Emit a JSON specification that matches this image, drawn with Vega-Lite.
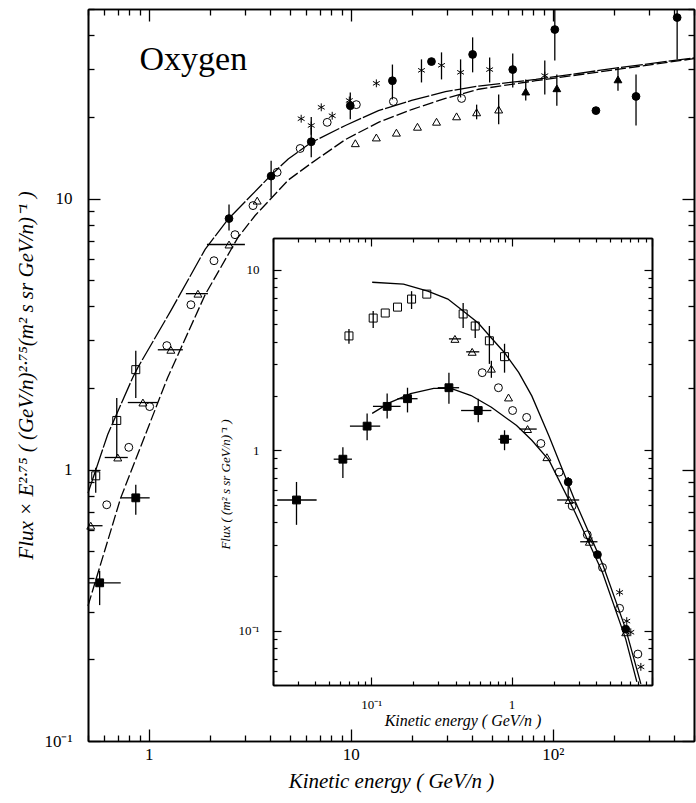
{
  "$schema": "https://vega.github.io/schema/vega-lite/v6.json",
  "width": 606,
  "height": 732,
  "autosize": {"type": "none"},
  "padding": {"left": 88, "top": 9, "right": 2, "bottom": 62},
  "background": "white",
  "config": {
    "view": {"stroke": null},
    "axis": {
      "labelFont": "Liberation Serif",
      "titleFont": "Liberation Serif",
      "labelColor": "black",
      "titleColor": "black",
      "domainColor": "black",
      "grid": false,
      "domainWidth": 1.6,
      "labelFlush": false,
      "labelOverlap": false,
      "labelBound": false,
      "titleFontWeight": "normal",
      "titleFontStyle": "italic",
      "zindex": 1
    },
    "text": {"font": "Liberation Serif"}
  },
  "datasets": {
    "mcurve": [
      {"c": "u", "x": 0.5, "y": 0.82},
      {"c": "u", "x": 0.626, "y": 1.35},
      {"c": "u", "x": 0.833, "y": 2.19},
      {"c": "u", "x": 0.882, "y": 2.38},
      {"c": "u", "x": 1.286, "y": 3.86},
      {"c": "u", "x": 1.9, "y": 6.5},
      {"c": "u", "x": 2.47, "y": 8.4},
      {"c": "u", "x": 4.03, "y": 12.2},
      {"c": "u", "x": 4.9, "y": 14.0},
      {"c": "u", "x": 6.37, "y": 16.1},
      {"c": "u", "x": 9.4, "y": 18.6},
      {"c": "u", "x": 13.7, "y": 21.1},
      {"c": "u", "x": 20, "y": 23.0},
      {"c": "u", "x": 29.4, "y": 24.8},
      {"c": "u", "x": 42.9, "y": 26.0},
      {"c": "u", "x": 82.4, "y": 27.5},
      {"c": "u", "x": 213, "y": 30.4},
      {"c": "u", "x": 500, "y": 33.0},
      {"c": "l", "x": 0.5, "y": 0.315},
      {"c": "l", "x": 0.726, "y": 0.788},
      {"c": "l", "x": 1.24, "y": 2.19},
      {"c": "l", "x": 1.9, "y": 4.42},
      {"c": "l", "x": 2.76, "y": 7.18},
      {"c": "l", "x": 3.36, "y": 8.66},
      {"c": "l", "x": 4.9, "y": 11.7},
      {"c": "l", "x": 6.37, "y": 13.5},
      {"c": "l", "x": 9.4, "y": 16.5},
      {"c": "l", "x": 13.7, "y": 19.1},
      {"c": "l", "x": 20, "y": 21.3},
      {"c": "l", "x": 29.4, "y": 23.4},
      {"c": "l", "x": 42.9, "y": 25.3},
      {"c": "l", "x": 82.4, "y": 27.2},
      {"c": "l", "x": 213, "y": 30.0},
      {"c": "l", "x": 500, "y": 32.8}
    ],
    "mpts": [
      {"s": "sq", "x": 0.546, "y": 0.95, "ylo": 0.823, "yhi": 1.017},
      {"s": "sq", "x": 0.694, "y": 1.52, "ylo": 1.11, "yhi": 1.84},
      {"s": "sq", "x": 0.862, "y": 2.34, "ylo": 1.84, "yhi": 2.75},
      {"s": "tri", "x": 0.516, "y": 0.622, "xlo": 0.5, "xhi": 0.59},
      {"s": "tri", "x": 0.702, "y": 1.11, "xlo": 0.605, "xhi": 0.787},
      {"s": "tri", "x": 0.935, "y": 1.77, "xlo": 0.787, "xhi": 1.108},
      {"s": "tri", "x": 1.286, "y": 2.77, "xlo": 1.108, "xhi": 1.474},
      {"s": "tri", "x": 1.751, "y": 4.46, "xlo": 1.526, "xhi": 1.962},
      {"s": "tri", "x": 2.495, "y": 6.77, "xlo": 1.94, "xhi": 2.99},
      {"s": "tri", "x": 3.44, "y": 9.83},
      {"s": "tri", "x": 10.53, "y": 16.0},
      {"s": "tri", "x": 13.38, "y": 16.8},
      {"s": "tri", "x": 16.82, "y": 17.5},
      {"s": "tri", "x": 21.38, "y": 18.4},
      {"s": "tri", "x": 26.57, "y": 19.2},
      {"s": "tri", "x": 33.39, "y": 20.1},
      {"s": "tri", "x": 41.96, "y": 20.8, "ylo": 19.6, "yhi": 22.2},
      {"s": "tri", "x": 53.95, "y": 21.3, "ylo": 18.8, "yhi": 24.2},
      {"s": "circ", "x": 0.619, "y": 0.743},
      {"s": "circ", "x": 0.796, "y": 1.21},
      {"s": "circ", "x": 1.01, "y": 1.71},
      {"s": "circ", "x": 1.228, "y": 2.87},
      {"s": "circ", "x": 1.616, "y": 4.06},
      {"s": "circ", "x": 2.102, "y": 5.9},
      {"s": "circ", "x": 2.672, "y": 7.36},
      {"s": "circ", "x": 3.28, "y": 9.42},
      {"s": "circ", "x": 4.318, "y": 12.5},
      {"s": "circ", "x": 5.615, "y": 15.3},
      {"s": "circ", "x": 7.64, "y": 19.1},
      {"s": "circ", "x": 10.65, "y": 22.2},
      {"s": "circ", "x": 16.25, "y": 22.8},
      {"s": "circ", "x": 35.35, "y": 23.4},
      {"s": "fsq", "x": 0.571, "y": 0.383, "xlo": 0.5, "xhi": 0.726, "ylo": 0.317, "yhi": 0.424},
      {"s": "fsq", "x": 0.862, "y": 0.788, "xlo": 0.726, "xhi": 1.01, "ylo": 0.682, "yhi": 0.88},
      {"s": "fcirc", "x": 2.495, "y": 8.44, "ylo": 7.62, "yhi": 9.5},
      {"s": "fcirc", "x": 4.032, "y": 12.1, "ylo": 10.1, "yhi": 13.8},
      {"s": "fcirc", "x": 6.37, "y": 16.2, "ylo": 14.2, "yhi": 18.3},
      {"s": "fcirc", "x": 9.94, "y": 22.0, "ylo": 19.6, "yhi": 24.6},
      {"s": "fcirc", "x": 16.07, "y": 27.2, "ylo": 23.2, "yhi": 31.2},
      {"s": "fcirc", "x": 25.08, "y": 32.0},
      {"s": "fcirc", "x": 40.09, "y": 34.0, "ylo": 29.2, "yhi": 39.3},
      {"s": "fcirc", "x": 63.33, "y": 29.9, "ylo": 25.7, "yhi": 34.3},
      {"s": "fcirc", "x": 102.3, "y": 42.0, "ylo": 32.3, "yhi": 50},
      {"s": "fcirc", "x": 163.5, "y": 21.1},
      {"s": "fcirc", "x": 258.2, "y": 23.8, "ylo": 18.6, "yhi": 28.7},
      {"s": "fcirc", "x": 412.6, "y": 46.5, "ylo": 32.6, "yhi": 50},
      {"s": "star", "x": 5.68, "y": 19.7},
      {"s": "star", "x": 6.37, "y": 18.6, "ylo": 17.2, "yhi": 20.0},
      {"s": "star", "x": 7.14, "y": 21.7},
      {"s": "star", "x": 8.09, "y": 20.2},
      {"s": "star", "x": 9.83, "y": 23.0},
      {"s": "star", "x": 13.38, "y": 26.6},
      {"s": "star", "x": 22.38, "y": 29.7, "ylo": 26.8, "yhi": 32.6},
      {"s": "star", "x": 28.12, "y": 31.0, "ylo": 27.5, "yhi": 34.6},
      {"s": "star", "x": 34.95, "y": 29.2, "ylo": 23.6, "yhi": 32.6},
      {"s": "star", "x": 48.68, "y": 29.9, "ylo": 26.8, "yhi": 33.1},
      {"s": "star", "x": 91.26, "y": 28.4, "ylo": 24.2, "yhi": 32.3},
      {"s": "ftri", "x": 73.45, "y": 24.8, "ylo": 23.0, "yhi": 27.5},
      {"s": "ftri", "x": 104.7, "y": 25.5, "ylo": 22.0, "yhi": 28.7},
      {"s": "ftri", "x": 210.2, "y": 27.5, "ylo": 25.0, "yhi": 30.4}
    ],
    "mlabel": [{"x": 0.9, "y": 32.3, "t": "Oxygen"}],
    "icurve": [
      {"c": "u", "x": 0.1017, "y": 8.53},
      {"c": "u", "x": 0.17, "y": 8.32},
      {"c": "u", "x": 0.253, "y": 7.61},
      {"c": "u", "x": 0.352, "y": 6.88},
      {"c": "u", "x": 0.452, "y": 5.91},
      {"c": "u", "x": 0.579, "y": 5.07},
      {"c": "u", "x": 0.718, "y": 4.19},
      {"c": "u", "x": 0.891, "y": 3.47},
      {"c": "u", "x": 1.123, "y": 2.7},
      {"c": "u", "x": 1.393, "y": 2.0},
      {"c": "u", "x": 1.846, "y": 1.2},
      {"c": "u", "x": 2.84, "y": 0.52},
      {"c": "u", "x": 4.44, "y": 0.235},
      {"c": "u", "x": 6.5, "y": 0.102},
      {"c": "u", "x": 8.33, "y": 0.0507},
      {"c": "l", "x": 0.1017, "y": 1.6},
      {"c": "l", "x": 0.137, "y": 1.84},
      {"c": "l", "x": 0.191, "y": 2.06},
      {"c": "l", "x": 0.279, "y": 2.2},
      {"c": "l", "x": 0.37, "y": 2.2},
      {"c": "l", "x": 0.515, "y": 2.01},
      {"c": "l", "x": 0.718, "y": 1.73},
      {"c": "l", "x": 1.086, "y": 1.37},
      {"c": "l", "x": 1.393, "y": 1.135},
      {"c": "l", "x": 1.846, "y": 0.881},
      {"c": "l", "x": 2.84, "y": 0.45},
      {"c": "l", "x": 4.44, "y": 0.21},
      {"c": "l", "x": 6.5, "y": 0.0898},
      {"c": "l", "x": 7.8, "y": 0.052}
    ],
    "ipts": [
      {"s": "sq", "x": 0.0695, "y": 4.3, "ylo": 3.89, "yhi": 4.7},
      {"s": "sq", "x": 0.1034, "y": 5.4, "ylo": 4.76, "yhi": 5.91},
      {"s": "sq", "x": 0.126, "y": 5.76},
      {"s": "sq", "x": 0.154, "y": 6.21},
      {"s": "sq", "x": 0.194, "y": 6.88, "ylo": 6.06, "yhi": 7.61},
      {"s": "sq", "x": 0.249, "y": 7.33},
      {"s": "sq", "x": 0.452, "y": 5.69, "ylo": 4.76, "yhi": 6.54},
      {"s": "sq", "x": 0.551, "y": 4.88, "ylo": 4.19, "yhi": 5.2},
      {"s": "sq", "x": 0.695, "y": 4.04, "ylo": 3.01, "yhi": 4.88},
      {"s": "sq", "x": 0.891, "y": 3.3, "ylo": 2.69, "yhi": 3.89},
      {"s": "fsq", "x": 0.0294, "y": 0.53, "xlo": 0.0214, "xhi": 0.0409, "ylo": 0.386, "yhi": 0.667},
      {"s": "fsq", "x": 0.0629, "y": 0.892, "xlo": 0.0541, "xhi": 0.073, "ylo": 0.701, "yhi": 1.04},
      {"s": "fsq", "x": 0.0936, "y": 1.36, "xlo": 0.0706, "xhi": 0.116, "ylo": 1.135, "yhi": 1.6},
      {"s": "fsq", "x": 0.13, "y": 1.75, "xlo": 0.103, "xhi": 0.162, "ylo": 1.5, "yhi": 2.06},
      {"s": "fsq", "x": 0.1815, "y": 1.93, "xlo": 0.154, "xhi": 0.214, "ylo": 1.62, "yhi": 2.22},
      {"s": "fsq", "x": 0.358, "y": 2.22, "xlo": 0.298, "xhi": 0.423, "ylo": 1.81, "yhi": 2.69},
      {"s": "fsq", "x": 0.579, "y": 1.66, "xlo": 0.437, "xhi": 0.718, "ylo": 1.43, "yhi": 1.93},
      {"s": "fsq", "x": 0.891, "y": 1.15, "xlo": 0.806, "xhi": 1.0, "ylo": 1.0, "yhi": 1.29},
      {"s": "tri", "x": 0.395, "y": 4.14, "xlo": 0.358, "xhi": 0.437},
      {"s": "tri", "x": 0.524, "y": 3.51, "xlo": 0.475, "xhi": 0.589},
      {"s": "tri", "x": 0.718, "y": 2.83, "ylo": 2.52, "yhi": 3.13},
      {"s": "tri", "x": 0.951, "y": 1.96},
      {"s": "tri", "x": 1.3, "y": 1.31, "xlo": 1.14, "xhi": 1.51},
      {"s": "tri", "x": 1.785, "y": 0.915},
      {"s": "tri", "x": 2.57, "y": 0.53, "xlo": 2.11, "xhi": 3.03},
      {"s": "tri", "x": 3.58, "y": 0.311, "xlo": 3.08, "xhi": 4.09},
      {"s": "tri", "x": 6.5, "y": 0.098},
      {"s": "circ", "x": 0.618, "y": 2.69},
      {"s": "circ", "x": 0.806, "y": 2.22},
      {"s": "circ", "x": 1.017, "y": 1.66},
      {"s": "circ", "x": 1.28, "y": 1.52},
      {"s": "circ", "x": 1.617, "y": 1.09},
      {"s": "circ", "x": 2.18, "y": 0.756},
      {"s": "circ", "x": 2.7, "y": 0.491},
      {"s": "circ", "x": 3.46, "y": 0.34},
      {"s": "circ", "x": 4.44, "y": 0.224},
      {"s": "circ", "x": 5.88, "y": 0.133},
      {"s": "circ", "x": 7.93, "y": 0.0742},
      {"s": "fcirc", "x": 2.53, "y": 0.667, "ylo": 0.551, "yhi": 0.71},
      {"s": "fcirc", "x": 4.09, "y": 0.264},
      {"s": "fcirc", "x": 6.5, "y": 0.102},
      {"s": "star", "x": 3.58, "y": 0.319},
      {"s": "star", "x": 5.88, "y": 0.163},
      {"s": "star", "x": 6.61, "y": 0.113},
      {"s": "star", "x": 7.06, "y": 0.098},
      {"s": "star", "x": 8.33, "y": 0.063}
    ]
  },
  "layer": [
    {
      "layer": [
        {
          "data": {"name": "mcurve"},
          "mark": {"type": "line", "color": "black", "strokeWidth": 1.3},
          "encoding": {
            "x": {"field": "x", "type": "quantitative",
              "scale": {"type": "log", "domain": [0.5, 500], "nice": false},
              "axis": {
                "orient": "bottom",
                "values": [1, 10, 100],
                "labelExpr": "datum.value == 1 ? '1' : datum.value == 10 ? '10' : '10²'",
                "ticks": true, "tickColor": "#000000", "tickOpacity": 1, "tickWidth": 1.3, "tickSize": -12,
                "labelPadding": 17,
                "labelFontSize": 17,
                "title": "Kinetic energy ( GeV/n )",
                "titleFontSize": 21,
                "titlePadding": 8
              }},
            "y": {"field": "y", "type": "quantitative",
              "scale": {"type": "log", "domain": [0.1, 50], "nice": false},
              "axis": {
                "orient": "left",
                "values": [0.1, 1, 10],
                "labelExpr": "datum.value == 0.1 ? '10⁻¹' : datum.value == 1 ? '1' : '10'",
                "ticks": true, "tickColor": "#000000", "tickOpacity": 1, "tickWidth": 1.3, "tickSize": -12,
                "labelPadding": 28,
                "labelFontSize": 17,
                "title": "Flux × E²·⁷⁵ ( (GeV/n)²·⁷⁵(m² s sr GeV/n)⁻¹ )",
                "titleFontSize": 21,
                "titlePadding": 7
              }},
            "strokeDash": {"field": "c", "type": "nominal", "scale": {"domain": ["u", "l"], "range": [[22, 2], [11, 3]]}, "legend": null}
          }
        },
        {
          "data": {"name": "mcurve"},
          "mark": {"type": "line", "opacity": 0},
          "encoding": {
            "x": {"field": "x", "type": "quantitative",
              "scale": {"type": "log", "domain": [0.5, 500], "nice": false},
              "axis": {"orient": "top", "values": [1, 10, 100], "labels": false, "ticks": true, "tickColor": "#000000", "tickOpacity": 1, "tickWidth": 1.3, "tickSize": -12, "title": null}},
            "y": {"field": "y", "type": "quantitative",
              "scale": {"type": "log", "domain": [0.1, 50], "nice": false},
              "axis": {"orient": "right", "values": [0.1, 1, 10], "labels": false, "ticks": true, "tickColor": "#000000", "tickOpacity": 1, "tickWidth": 1.3, "tickSize": -12, "title": null}},
            "detail": {"field": "c"}
          }
        },
        {
          "data": {"name": "mcurve"},
          "mark": {"type": "line", "opacity": 0},
          "encoding": {
            "x": {"field": "x", "type": "quantitative",
              "scale": {"type": "log", "domain": [0.5, 500], "nice": false},
              "axis": {"orient": "bottom", "values": [0.5, 0.6, 0.7, 0.8, 0.9, 2, 3, 4, 5, 6, 7, 8, 9, 20, 30, 40, 50, 60, 70, 80, 90, 200, 300, 400, 500], "labels": false, "ticks": true, "tickColor": "#000000", "tickOpacity": 1, "tickWidth": 1.3, "tickSize": -6, "title": null}},
            "y": {"field": "y", "type": "quantitative",
              "scale": {"type": "log", "domain": [0.1, 50], "nice": false},
              "axis": {"orient": "left", "values": [0.2, 0.3, 0.4, 0.5, 0.6, 0.7, 0.8, 0.9, 2, 3, 4, 5, 6, 7, 8, 9, 20, 30, 40, 50], "labels": false, "ticks": true, "tickColor": "#000000", "tickOpacity": 1, "tickWidth": 1.3, "tickSize": -6, "title": null}},
            "detail": {"field": "c"}
          }
        },
        {
          "data": {"name": "mcurve"},
          "mark": {"type": "line", "opacity": 0},
          "encoding": {
            "x": {"field": "x", "type": "quantitative",
              "scale": {"type": "log", "domain": [0.5, 500], "nice": false},
              "axis": {"orient": "top", "values": [0.5, 0.6, 0.7, 0.8, 0.9, 2, 3, 4, 5, 6, 7, 8, 9, 20, 30, 40, 50, 60, 70, 80, 90, 200, 300, 400, 500], "labels": false, "ticks": true, "tickColor": "#000000", "tickOpacity": 1, "tickWidth": 1.3, "tickSize": -6, "title": null}},
            "y": {"field": "y", "type": "quantitative",
              "scale": {"type": "log", "domain": [0.1, 50], "nice": false},
              "axis": {"orient": "right", "values": [0.2, 0.3, 0.4, 0.5, 0.6, 0.7, 0.8, 0.9, 2, 3, 4, 5, 6, 7, 8, 9, 20, 30, 40, 50], "labels": false, "ticks": true, "tickColor": "#000000", "tickOpacity": 1, "tickWidth": 1.3, "tickSize": -6, "title": null}},
            "detail": {"field": "c"}
          }
        },
        {
          "data": {"name": "mpts"},
          "transform": [{"filter": "isValid(datum.ylo)"}],
          "mark": {"type": "rule", "color": "black", "strokeWidth": 1.3},
          "encoding": {
            "x": {"field": "x", "type": "quantitative", "scale": {"type": "log", "domain": [0.5, 500], "nice": false}, "axis": null},
            "y": {"field": "ylo", "type": "quantitative", "scale": {"type": "log", "domain": [0.1, 50], "nice": false}, "axis": null},
            "y2": {"field": "yhi"}
          }
        },
        {
          "data": {"name": "mpts"},
          "transform": [{"filter": "isValid(datum.xlo)"}],
          "mark": {"type": "rule", "color": "black", "strokeWidth": 1.3},
          "encoding": {
            "x": {"field": "xlo", "type": "quantitative", "scale": {"type": "log", "domain": [0.5, 500], "nice": false}, "axis": null},
            "x2": {"field": "xhi"},
            "y": {"field": "y", "type": "quantitative", "scale": {"type": "log", "domain": [0.1, 50], "nice": false}, "axis": null}
          }
        },
        {
          "data": {"name": "mpts"},
          "mark": {"type": "point", "filled": true, "stroke": "black", "strokeWidth": 1, "opacity": 1},
          "encoding": {
            "x": {"field": "x", "type": "quantitative", "scale": {"type": "log", "domain": [0.5, 500], "nice": false}, "axis": null},
            "y": {"field": "y", "type": "quantitative", "scale": {"type": "log", "domain": [0.1, 50], "nice": false}, "axis": null},
            "shape": {"field": "s", "type": "nominal", "legend": null,
              "scale": {"domain": ["sq", "tri", "circ", "star", "fsq", "fcirc", "ftri"],
                "range": ["square", "triangle-up", "circle", "M0,-1L0,1M-0.87,-0.5L0.87,0.5M-0.87,0.5L0.87,-0.5", "square", "circle", "triangle-up"]}},
            "size": {"field": "s", "type": "nominal", "legend": null,
              "scale": {"domain": ["sq", "tri", "circ", "star", "fsq", "fcirc", "ftri"], "range": [64, 60, 60, 80, 64, 60, 64]}},
            "fill": {"condition": {"test": "datum.s == 'fsq' || datum.s == 'fcirc' || datum.s == 'ftri'", "value": "black"}, "value": "transparent"}
          }
        },
        {
          "data": {"name": "mlabel"},
          "mark": {"type": "text", "align": "left", "baseline": "middle", "fontSize": 34, "font": "Liberation Serif", "color": "black"},
          "encoding": {
            "x": {"field": "x", "type": "quantitative", "scale": {"type": "log", "domain": [0.5, 500], "nice": false}, "axis": null},
            "y": {"field": "y", "type": "quantitative", "scale": {"type": "log", "domain": [0.1, 50], "nice": false}, "axis": null},
            "text": {"field": "t"}
          }
        }
      ],
      "resolve": {"axis": {"x": "independent", "y": "independent"}}
    },
    {
      "layer": [
        {
          "data": {"name": "icurve"},
          "mark": {"type": "line", "color": "black", "strokeWidth": 1.3},
          "encoding": {
            "x": {"field": "x", "type": "quantitative",
              "scale": {"type": "log", "domain": [0.02, 10], "range": [185, 564], "nice": false},
              "axis": {
                "orient": "bottom",
                "offset": -56,
                "values": [0.1, 1, 10],
                "labelExpr": "datum.value == 0.1 ? '10⁻¹' : datum.value == 1 ? '1' : ''",
                "ticks": true, "tickColor": "#000000", "tickOpacity": 1, "tickWidth": 1.2, "tickSize": -8,
                "labelPadding": 21,
                "labelFontSize": 13,
                "title": "Kinetic energy ( GeV/n )",
                "titleFontSize": 16,
                "titlePadding": 1
              }},
            "y": {"field": "y", "type": "quantitative",
              "scale": {"type": "log", "domain": [0.05, 15], "range": [676, 229], "nice": false},
              "axis": {
                "orient": "left",
                "offset": -185,
                "values": [0.1, 1, 10],
                "labelExpr": "datum.value == 0.1 ? '10⁻¹' : datum.value == 1 ? '1' : '10'",
                "ticks": true, "tickColor": "#000000", "tickOpacity": 1, "tickWidth": 1.2, "tickSize": -8,
                "labelPadding": 22,
                "labelFontSize": 13,
                "title": "Flux ( (m² s sr GeV/n)⁻¹ )",
                "titleFontSize": 13,
                "titlePadding": 6,
                "titleY": 475
              }},
            "detail": {"field": "c"}
          }
        },
        {
          "data": {"name": "icurve"},
          "mark": {"type": "line", "opacity": 0},
          "encoding": {
            "x": {"field": "x", "type": "quantitative",
              "scale": {"type": "log", "domain": [0.02, 10], "range": [185, 564], "nice": false},
              "axis": {"orient": "top", "offset": -229, "values": [0.1, 1, 10], "labels": false, "ticks": true, "tickColor": "#000000", "tickOpacity": 1, "tickWidth": 1.2, "tickSize": -8, "title": null}},
            "y": {"field": "y", "type": "quantitative",
              "scale": {"type": "log", "domain": [0.05, 15], "range": [676, 229], "nice": false},
              "axis": {"orient": "right", "offset": -42, "values": [0.1, 1, 10], "labels": false, "ticks": true, "tickColor": "#000000", "tickOpacity": 1, "tickWidth": 1.2, "tickSize": -8, "title": null}},
            "detail": {"field": "c"}
          }
        },
        {
          "data": {"name": "icurve"},
          "mark": {"type": "line", "opacity": 0},
          "encoding": {
            "x": {"field": "x", "type": "quantitative",
              "scale": {"type": "log", "domain": [0.02, 10], "range": [185, 564], "nice": false},
              "axis": {"orient": "bottom", "offset": -56, "values": [0.02, 0.03, 0.04, 0.05, 0.06, 0.07, 0.08, 0.09, 0.2, 0.3, 0.4, 0.5, 0.6, 0.7, 0.8, 0.9, 2, 3, 4, 5, 6, 7, 8, 9], "labels": false, "ticks": true, "tickColor": "#000000", "tickOpacity": 1, "tickWidth": 1.2, "tickSize": -4, "title": null}},
            "y": {"field": "y", "type": "quantitative",
              "scale": {"type": "log", "domain": [0.05, 15], "range": [676, 229], "nice": false},
              "axis": {"orient": "left", "offset": -185, "values": [0.05, 0.06, 0.07, 0.08, 0.09, 0.2, 0.3, 0.4, 0.5, 0.6, 0.7, 0.8, 0.9, 2, 3, 4, 5, 6, 7, 8, 9], "labels": false, "ticks": true, "tickColor": "#000000", "tickOpacity": 1, "tickWidth": 1.2, "tickSize": -4, "title": null}},
            "detail": {"field": "c"}
          }
        },
        {
          "data": {"name": "icurve"},
          "mark": {"type": "line", "opacity": 0},
          "encoding": {
            "x": {"field": "x", "type": "quantitative",
              "scale": {"type": "log", "domain": [0.02, 10], "range": [185, 564], "nice": false},
              "axis": {"orient": "top", "offset": -229, "values": [0.02, 0.03, 0.04, 0.05, 0.06, 0.07, 0.08, 0.09, 0.2, 0.3, 0.4, 0.5, 0.6, 0.7, 0.8, 0.9, 2, 3, 4, 5, 6, 7, 8, 9], "labels": false, "ticks": true, "tickColor": "#000000", "tickOpacity": 1, "tickWidth": 1.2, "tickSize": -4, "title": null}},
            "y": {"field": "y", "type": "quantitative",
              "scale": {"type": "log", "domain": [0.05, 15], "range": [676, 229], "nice": false},
              "axis": {"orient": "right", "offset": -42, "values": [0.05, 0.06, 0.07, 0.08, 0.09, 0.2, 0.3, 0.4, 0.5, 0.6, 0.7, 0.8, 0.9, 2, 3, 4, 5, 6, 7, 8, 9], "labels": false, "ticks": true, "tickColor": "#000000", "tickOpacity": 1, "tickWidth": 1.2, "tickSize": -4, "title": null}},
            "detail": {"field": "c"}
          }
        },
        {
          "data": {"name": "ipts"},
          "transform": [{"filter": "isValid(datum.ylo)"}],
          "mark": {"type": "rule", "color": "black", "strokeWidth": 1.3},
          "encoding": {
            "x": {"field": "x", "type": "quantitative", "scale": {"type": "log", "domain": [0.02, 10], "range": [185, 564], "nice": false}, "axis": null},
            "y": {"field": "ylo", "type": "quantitative", "scale": {"type": "log", "domain": [0.05, 15], "range": [676, 229], "nice": false}, "axis": null},
            "y2": {"field": "yhi"}
          }
        },
        {
          "data": {"name": "ipts"},
          "transform": [{"filter": "isValid(datum.xlo)"}],
          "mark": {"type": "rule", "color": "black", "strokeWidth": 1.3},
          "encoding": {
            "x": {"field": "xlo", "type": "quantitative", "scale": {"type": "log", "domain": [0.02, 10], "range": [185, 564], "nice": false}, "axis": null},
            "x2": {"field": "xhi"},
            "y": {"field": "y", "type": "quantitative", "scale": {"type": "log", "domain": [0.05, 15], "range": [676, 229], "nice": false}, "axis": null}
          }
        },
        {
          "data": {"name": "ipts"},
          "mark": {"type": "point", "filled": true, "stroke": "black", "strokeWidth": 1, "opacity": 1},
          "encoding": {
            "x": {"field": "x", "type": "quantitative", "scale": {"type": "log", "domain": [0.02, 10], "range": [185, 564], "nice": false}, "axis": null},
            "y": {"field": "y", "type": "quantitative", "scale": {"type": "log", "domain": [0.05, 15], "range": [676, 229], "nice": false}, "axis": null},
            "shape": {"field": "s", "type": "nominal", "legend": null,
              "scale": {"domain": ["sq", "tri", "circ", "star", "fsq", "fcirc", "ftri"],
                "range": ["square", "triangle-up", "circle", "M0,-1L0,1M-0.87,-0.5L0.87,0.5M-0.87,0.5L0.87,-0.5", "square", "circle", "triangle-up"]}},
            "size": {"field": "s", "type": "nominal", "legend": null,
              "scale": {"domain": ["sq", "tri", "circ", "star", "fsq", "fcirc", "ftri"], "range": [64, 60, 60, 80, 64, 60, 64]}},
            "fill": {"condition": {"test": "datum.s == 'fsq' || datum.s == 'fcirc' || datum.s == 'ftri'", "value": "black"}, "value": "transparent"}
          }
        }
      ],
      "resolve": {"axis": {"x": "independent", "y": "independent"}}
    }
  ],
  "resolve": {"scale": {"x": "independent", "y": "independent"}, "axis": {"x": "independent", "y": "independent"}}
}
